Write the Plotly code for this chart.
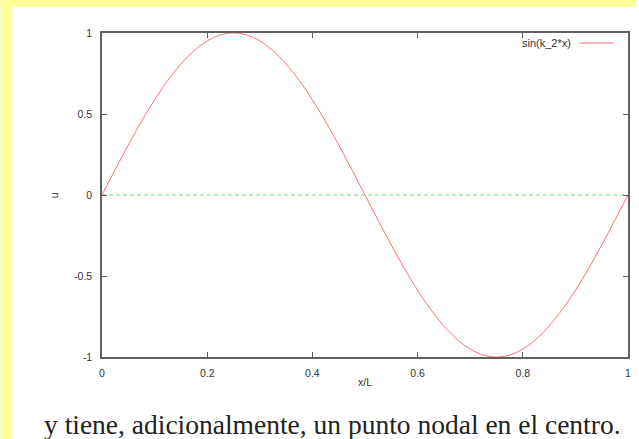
import plotly.graph_objects as go

# Data (curve sin(k_2*x), k_2 = 2*pi/L)
x_vals = [0.0, 0.025, 0.05, 0.075, 0.1, 0.125, 0.15, 0.175, 0.2, 0.225, 0.25,
          0.275, 0.3, 0.325, 0.35, 0.375, 0.4, 0.425, 0.45, 0.475, 0.5,
          0.525, 0.55, 0.575, 0.6, 0.625, 0.65, 0.675, 0.7, 0.725, 0.75,
          0.775, 0.8, 0.825, 0.85, 0.875, 0.9, 0.925, 0.95, 0.975, 1.0]
u_vals = [0.0, 0.156, 0.309, 0.454, 0.588, 0.707, 0.809, 0.891, 0.951, 0.988, 1.0,
          0.988, 0.951, 0.891, 0.809, 0.707, 0.588, 0.454, 0.309, 0.156, 0.0,
          -0.156, -0.309, -0.454, -0.588, -0.707, -0.809, -0.891, -0.951, -0.988, -1.0,
          -0.988, -0.951, -0.891, -0.809, -0.707, -0.588, -0.454, -0.309, -0.156, 0.0]
zero_x = [0.0, 1.0]
zero_y = [0.0, 0.0]

x_ticks = [0, 0.2, 0.4, 0.6, 0.8, 1]
x_tick_text = ["0", "0.2", "0.4", "0.6", "0.8", "1"]
y_ticks = [-1, -0.5, 0, 0.5, 1]
y_tick_text = ["-1", "-0.5", "0", "0.5", "1"]

legend_label = "sin(k_2*x)"
x_title = "x/L"
y_title = "u"
caption = "y tiene, adicionalmente, un punto nodal en el centro."

W, H = 639, 439
L, R, T, B = 102, 631, 33, 357
PW, PH = R - L, B - T


def px(x):
    return (x - L) / PW


def py(y):
    return (B - y) / PH


curve_color = "#ff7070"
zero_color = "#70d870"
frame_color = "#606060"
text_color = "#333333"
tick_font = dict(family="Liberation Sans, Arial, sans-serif", size=10.5, color=text_color)

fig = go.Figure()
fig.add_trace(go.Scatter(x=zero_x, y=zero_y, mode="lines",
                         line=dict(color=zero_color, width=1, dash="4px,3px"),
                         showlegend=False, hoverinfo="skip"))
fig.add_trace(go.Scatter(x=x_vals, y=u_vals, mode="lines", line_shape="spline",
                         line=dict(color=curve_color, width=1),
                         name=legend_label, showlegend=False))

axis_common = dict(showline=True, mirror="ticks", linecolor=frame_color, linewidth=1.5,
                   ticks="inside", ticklen=5, tickcolor=frame_color, tickwidth=1,
                   showgrid=False, zeroline=False, tickfont=tick_font)

fig.update_xaxes(range=[0, 1], tickvals=x_ticks, ticktext=x_tick_text,
                 ticklabelstandoff=6, **axis_common)
fig.update_yaxes(range=[-1, 1], tickvals=y_ticks, ticktext=y_tick_text,
                 ticklabelstandoff=6, **axis_common)

yellow = "#ffff99"
shapes = [
    dict(type="rect", xref="paper", yref="paper", x0=px(0), x1=px(W), y0=py(7), y1=py(0),
         fillcolor=yellow, line_width=0, layer="below"),
    dict(type="rect", xref="paper", yref="paper", x0=px(0), x1=px(12), y0=py(H), y1=py(0),
         fillcolor=yellow, line_width=0, layer="below"),
    dict(type="line", xref="paper", yref="paper", x0=px(582), x1=px(617), y0=py(43), y1=py(43),
         line=dict(color=curve_color, width=1)),
]

annotations = [
    dict(text=legend_label, xref="paper", yref="paper", x=px(576), y=py(43),
         xanchor="right", yanchor="middle", showarrow=False,
         font=dict(family="Liberation Sans, Arial, sans-serif", size=11, color=text_color)),
    dict(text=x_title, xref="paper", yref="paper", x=px(367), y=py(382),
         xanchor="center", yanchor="middle", showarrow=False,
         font=dict(family="Liberation Sans, Arial, sans-serif", size=10.5, color=text_color)),
    dict(text=y_title, xref="paper", yref="paper", x=px(54), y=py(195), textangle=-90,
         xanchor="center", yanchor="middle", showarrow=False,
         font=dict(family="Liberation Sans, Arial, sans-serif", size=10.5, color=text_color)),
    dict(text=caption, xref="paper", yref="paper", x=px(42), y=py(424),
         xanchor="left", yanchor="middle", showarrow=False,
         font=dict(family="Liberation Serif, DejaVu Serif, serif", size=27.5, color="#222222")),
]

fig.update_layout(width=W, height=H, autosize=False,
                  margin=dict(l=L, r=W - R, t=T, b=H - B, pad=0),
                  paper_bgcolor="white", plot_bgcolor="white",
                  shapes=shapes, annotations=annotations, showlegend=False)

fig.write_html("out.html", config={"displayModeBar": False},
               post_script="document.body.style.margin='0';document.body.style.overflow='hidden';")
